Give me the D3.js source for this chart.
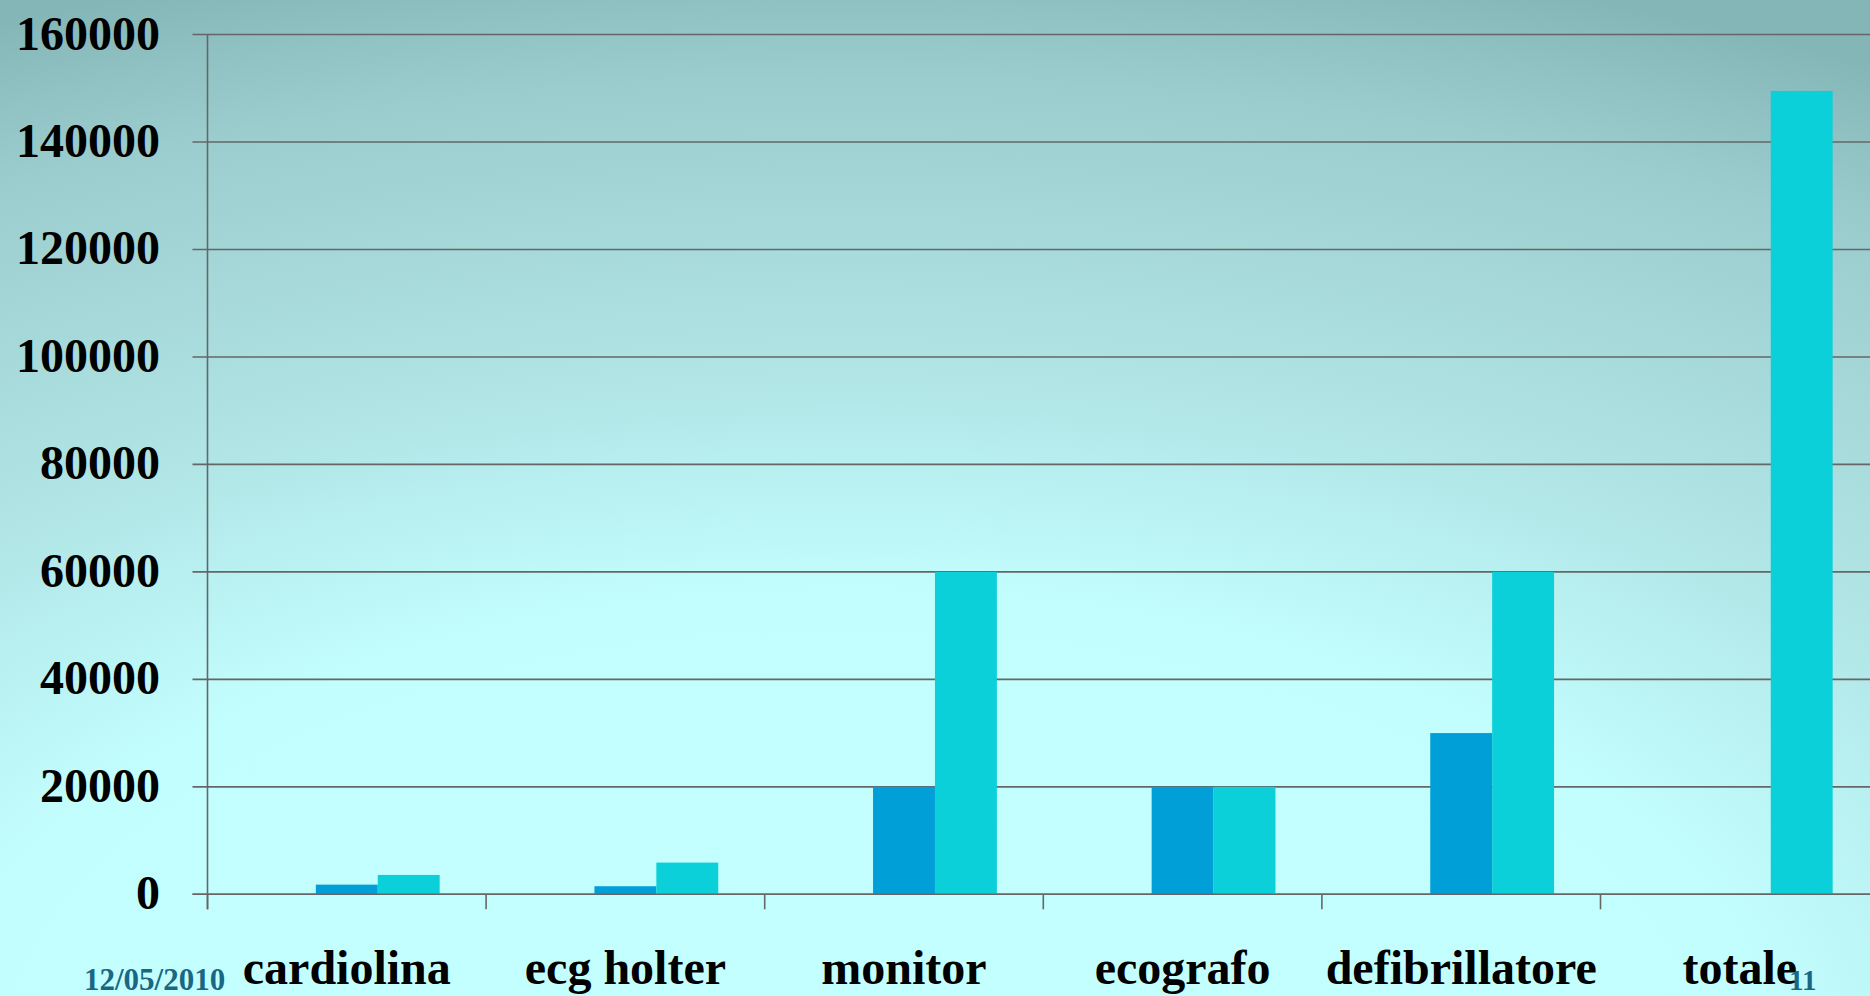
<!DOCTYPE html>
<html>
<head>
<meta charset="utf-8">
<script src="https://cdn.jsdelivr.net/npm/d3@7"></script>
<style>
  html, body { margin: 0; padding: 0; overflow: hidden; }
  text { font-family: "Liberation Serif", "DejaVu Serif", serif; }
</style>
</head>
<body>
<div id="chart"></div>
<script>
// chart data
var categories = ["cardiolina", "ecg holter", "monitor", "ecografo", "defibrillatore", "totale"];
var seriesNames = ["Serie1", "Serie2", "Serie3"];
var serie1 = [0, 0, 0, 0, 0, 0];
var serie2 = [1800, 1500, 20000, 20000, 30000, 0];
var serie3 = [3600, 5900, 60000, 20000, 60000, 149500];
var yTicks = [0, 20000, 40000, 60000, 80000, 100000, 120000, 140000, 160000];
var dateText = "12/05/2010";
var pageNumber = "11";

var W = 1870, H = 996;
var colors = ["#2f6fb0", "#009fd8", "#0bd0d9"];

var svg = d3.select("#chart").append("svg")
    .attr("width", W)
    .attr("height", H);

// background
var defs = svg.append("defs");
var grad = defs.append("radialGradient")
    .attr("id", "bg")
    .attr("gradientUnits", "userSpaceOnUse")
    .attr("cx", 850).attr("cy", 1080).attr("r", 1150)
    .attr("gradientTransform", "translate(850,1080) scale(1.9,1) translate(-850,-1080)");
[[0, "#c4ffff"], [0.42, "#c3fefe"], [0.62, "#b0e4e5"], [0.87, "#9ccdce"], [1, "#84b6b8"]].forEach(function(s){
    grad.append("stop").attr("offset", s[0]).attr("stop-color", s[1]);
});
svg.append("rect").attr("width", W).attr("height", H).attr("fill", "url(#bg)");

var plotLeft = 207.5, plotBottom = 894.3, plotTop = 34.5;
var step = 278.6;

var x = d3.scaleBand()
    .domain(categories)
    .range([plotLeft, plotLeft + step * categories.length])
    .paddingInner(0).paddingOuter(0);

var xs = d3.scaleBand()
    .domain(seriesNames)
    .range([0, x.bandwidth()])
    .paddingInner(0).paddingOuter(0.75);

var y = d3.scaleLinear()
    .domain([0, 160000])
    .range([plotBottom, plotTop]);

// gridlines
svg.append("g").selectAll("line")
    .data(yTicks)
    .enter().append("line")
    .attr("x1", plotLeft - 15).attr("x2", W)
    .attr("y1", function(d){ return y(d); })
    .attr("y2", function(d){ return y(d); })
    .style("stroke", "#666")
    .style("stroke-width", "1.6px");

// bars
var allSeries = [serie1, serie2, serie3];
allSeries.forEach(function(vals, si){
    svg.append("g").selectAll("rect")
        .data(vals)
        .enter().append("rect")
        .attr("x", function(d, i){ return x(categories[i]) + xs(seriesNames[si]); })
        .attr("width", xs.bandwidth())
        .attr("y", function(d){ return y(d); })
        .attr("height", function(d){ return plotBottom - y(d); })
        .style("fill", colors[si]);
});

// axes
svg.append("line")
    .attr("x1", plotLeft).attr("x2", plotLeft)
    .attr("y1", plotTop).attr("y2", plotBottom + 15)
    .style("stroke", "#666").style("stroke-width", "1.6px");

svg.append("line")
    .attr("x1", plotLeft - 15).attr("x2", W)
    .attr("y1", plotBottom).attr("y2", plotBottom)
    .style("stroke", "#666").style("stroke-width", "1.6px");

svg.append("g").selectAll("line")
    .data(categories)
    .enter().append("line")
    .attr("x1", function(d){ return x(d); })
    .attr("x2", function(d){ return x(d); })
    .attr("y1", plotBottom).attr("y2", plotBottom + 15)
    .style("stroke", "#666").style("stroke-width", "1.6px");

// y labels
svg.append("g").selectAll("text")
    .data(yTicks)
    .enter().append("text")
    .attr("x", 160)
    .attr("y", function(d){ return y(d) + 15; })
    .attr("text-anchor", "end")
    .style("font-size", "48px")
    .style("font-weight", "bold")
    .style("fill", "#000")
    .text(function(d){ return d; });

// category labels
svg.append("g").selectAll("text")
    .data(categories)
    .enter().append("text")
    .attr("x", function(d){ return x(d) + x.bandwidth() / 2; })
    .attr("y", 984)
    .attr("text-anchor", "middle")
    .style("font-size", "48px")
    .style("font-weight", "bold")
    .style("fill", "#000")
    .text(function(d){ return d; });

// slide footer
svg.append("text")
    .attr("x", 84).attr("y", 990)
    .style("font-size", "31px")
    .style("font-weight", "bold")
    .style("fill", "#1a6783")
    .text(dateText);

svg.append("text")
    .attr("x", 1789).attr("y", 990)
    .style("font-size", "29px")
    .style("font-weight", "bold")
    .style("fill", "#1a6783")
    .text(pageNumber);
</script>
</body>
</html>
